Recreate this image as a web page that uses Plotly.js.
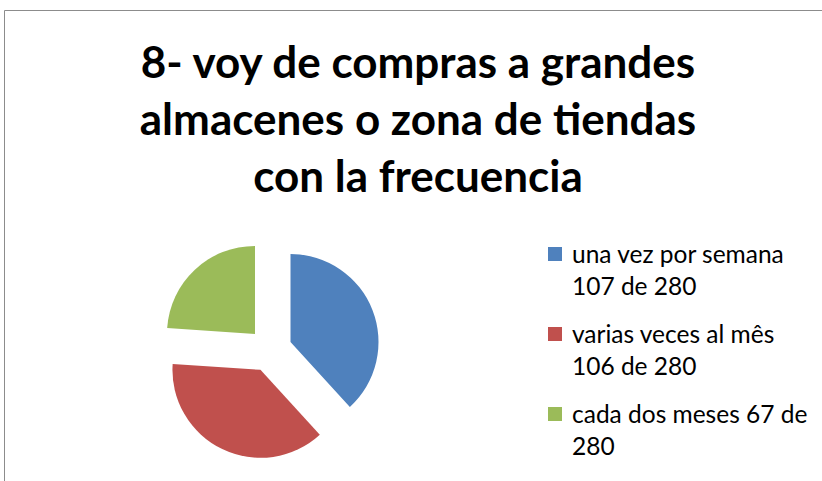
<!DOCTYPE html>
<html><head><meta charset="utf-8">
<script src="https://cdn.plot.ly/plotly-3.0.1.min.js"></script>
<style>html,body{margin:0;padding:0;background:#fff}#chart{width:822px;height:481px}</style>
</head><body><div id="chart"></div>
<script>
const categories = ["una vez por semana<br>107 de 280", "varias veces al mês<br>106 de 280", "cada dos meses 67 de<br>280"];
const values = [107, 106, 67];
const colors = ["#4F81BD", "#C0504D", "#9BBB59"];
const titleText = "8- voy de compras a grandes<br>almacenes o zona de tiendas<br>con la frecuencia";

const W = 822, H = 481;
const FONT = "Lato, 'Open Sans', sans-serif";
const data = [{
  type: "pie",
  labels: categories,
  values: values,
  sort: false,
  direction: "clockwise",
  rotation: 0,
  pull: [0.25, 0.25, 0.25],
  textinfo: "none",
  hoverinfo: "label+value",
  marker: {colors: colors, line: {width: 0}},
  domain: {x: [160 / W, 380 / W], y: [(H - 460) / H, (H - 240) / H]},
  showlegend: false
}];

// legend drawn as annotations + squares, generated from the arrays
const legendTop = 253, legendPitch = 80, lineGap = 32;
const annotations = categories.map((c, i) => ({
  xref: "paper", yref: "paper",
  x: 570 / W, xanchor: "left",
  y: 1 - (legendTop + i * legendPitch + lineGap / 2) / H, yanchor: "middle",
  text: c, align: "left", showarrow: false,
  font: {size: 24.5, family: FONT, color: "#000"}
}));
const legendShapes = colors.map((col, i) => {
  const cy = legendTop + i * legendPitch + 1;
  return {type: "rect", xref: "paper", yref: "paper",
    x0: 548 / W, x1: 562 / W, y0: 1 - (cy + 7) / H, y1: 1 - (cy - 7) / H,
    fillcolor: col, line: {width: 0}};
});

const layout = {
  width: W, height: H,
  margin: {l: 0, r: 0, t: 0, b: 0},
  paper_bgcolor: "#fff",
  font: {family: FONT, color: "#000"},
  title: {
    text: "<b>" + titleText + "</b>",
    font: {size: 44, family: FONT, color: "#000"},
    x: 418 / W, xanchor: "center", xref: "container",
    y: 1 - 78 / H, yanchor: "middle", yref: "container"
  },
  showlegend: false,
  annotations: annotations,
  shapes: [
    {type: "line", xref: "paper", yref: "paper", x0: 4.5 / W, x1: 1.01, y0: 1 - 10.5 / H, y1: 1 - 10.5 / H, line: {color: "#8c8c8c", width: 1}},
    {type: "line", xref: "paper", yref: "paper", x0: 4.5 / W, x1: 4.5 / W, y0: -0.01, y1: 1 - 10.5 / H, line: {color: "#8c8c8c", width: 1}}
  ].concat(legendShapes)
};
Plotly.newPlot("chart", data, layout, {displayModeBar: false});
</script></body></html>
